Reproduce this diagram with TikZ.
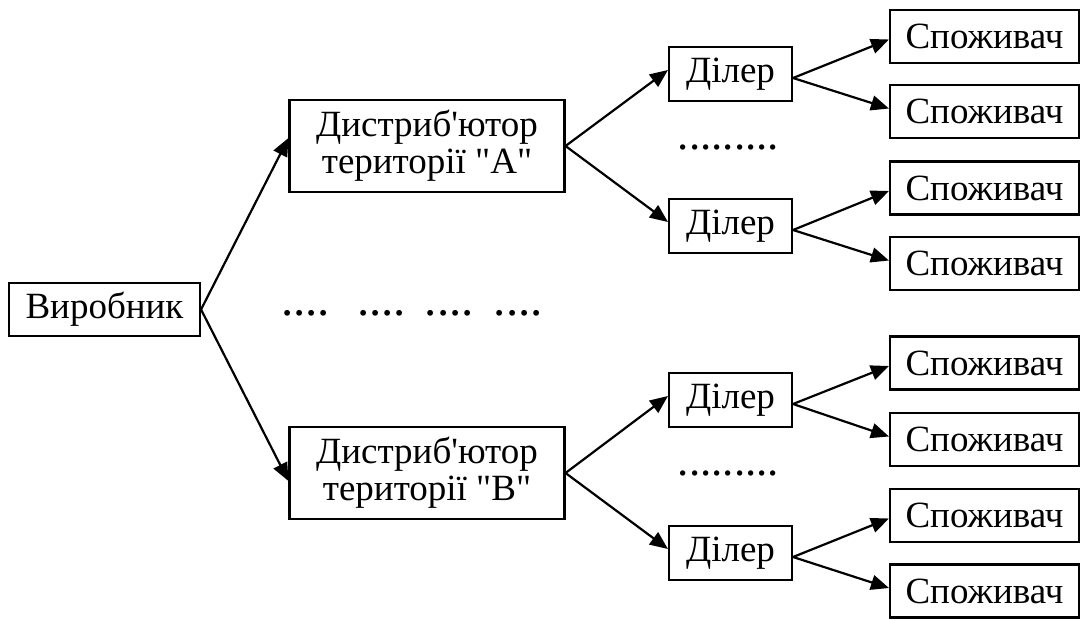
\documentclass[tikz,border=0pt]{standalone}
\usepackage{fontspec}
\setmainfont{Liberation Serif}[Ligatures=TeXOff]
\usetikzlibrary{arrows.meta}
\begin{document}
\begin{tikzpicture}[x=1pt,y=-1pt,
  box/.style={draw, line width=2.1pt, inner sep=0pt, align=center,
    font=\fontsize{37}{37}\selectfont},
  cons/.style={box, minimum width=189pt, minimum height=53pt},
  deal/.style={box, minimum width=123pt, minimum height=54pt},
  dist/.style={box, minimum width=275pt, minimum height=92pt},
  arr/.style={line width=2.2pt, -{Triangle[length=18pt,width=15pt]}},
  dots/.style={font=\fontsize{45}{45}\selectfont, inner sep=0pt},
  mdots/.style={font=\fontsize{49}{49}\selectfont, inner sep=0pt}]
\useasboundingbox (0,0) rectangle (1081,619);
\node[box, minimum width=191pt, minimum height=53pt] (v) at (104.5,309.5) {Виробник};
\node[dist] (dA) at (427,146) {Дистриб'ютор\\території "А"};
\node[dist] (dB) at (427,473) {Дистриб'ютор\\території "В"};
\node[deal] (d1) at (730.5,74) {Ділер};
\node[deal] (d2) at (730.5,226) {Ділер};
\node[deal] (d3) at (730.5,400) {Ділер};
\node[deal] (d4) at (730.5,553) {Ділер};
\node[cons] (c1) at (984.5,36.5) {Споживач};
\node[cons] (c2) at (984.5,111.5) {Споживач};
\node[cons] (c3) at (984.5,188) {Споживач};
\node[cons] (c4) at (984.5,263.5) {Споживач};
\node[cons] (c5) at (984.5,363) {Споживач};
\node[cons] (c6) at (984.5,439.5) {Споживач};
\node[cons] (c7) at (984.5,515.5) {Споживач};
\node[cons] (c8) at (984.5,591) {Споживач};
\node[dots] (m1) at (728.5,147) {.........};
\node[dots] (m2) at (728.5,473) {.........};
\node[mdots] (m3) at (412,313) {....\hspace{27pt}....\hspace{19pt}....\hspace{20pt}....};
\draw[arr] (v.east) -- ([yshift=8pt]dA.west);
\draw[arr] (v.east) -- ([yshift=-8pt]dB.west);
\draw[arr] (dA.east) -- ([yshift=4pt]d1.west);
\draw[arr] (dA.east) -- ([yshift=4pt]d2.west);
\draw[arr] (dB.east) -- ([yshift=4pt]d3.west);
\draw[arr] (dB.east) -- ([yshift=4pt]d4.west);
\draw[arr] ([yshift=-4pt]d1.east) -- ([yshift=-3pt]c1.west);
\draw[arr] ([yshift=-4pt]d1.east) -- ([yshift=3pt]c2.west);
\draw[arr] ([yshift=-4pt]d2.east) -- ([yshift=-3pt]c3.west);
\draw[arr] ([yshift=-4pt]d2.east) -- ([yshift=3pt]c4.west);
\draw[arr] ([yshift=-4pt]d3.east) -- ([yshift=-3pt]c5.west);
\draw[arr] ([yshift=-4pt]d3.east) -- ([yshift=3pt]c6.west);
\draw[arr] ([yshift=-4pt]d4.east) -- ([yshift=-3pt]c7.west);
\draw[arr] ([yshift=-4pt]d4.east) -- ([yshift=3pt]c8.west);
\end{tikzpicture}
\end{document}
